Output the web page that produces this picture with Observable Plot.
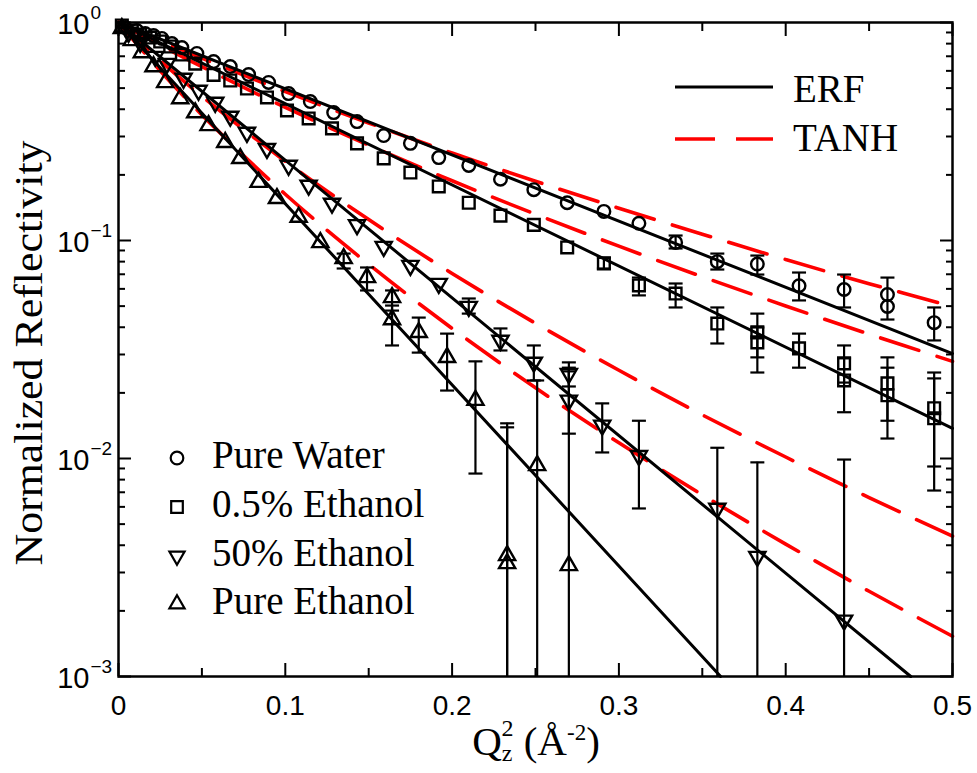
<!DOCTYPE html>
<html><head><meta charset="utf-8">
<script src="https://cdn.jsdelivr.net/npm/d3@7"></script>
<script src="https://cdn.jsdelivr.net/npm/@observablehq/plot@0.6"></script>
<style>body{margin:0;background:#fff} #chart{width:977px;height:773px}</style>
</head><body><div id="chart"></div>
<script>
// ---- axis ticks / labels ----
const xMajor = [0, 0.1, 0.2, 0.3, 0.4, 0.5];
const xMinor = [0.05, 0.15, 0.25, 0.35, 0.45];
const xTickLabels = ["0", "0.1", "0.2", "0.3", "0.4", "0.5"];
const yMajor = [1, 0.1, 0.01, 0.001];
const yTickExps = ["0", "\u22121", "\u22122", "\u22123"];
const yMinor = [0.9,0.8,0.7,0.6,0.5,0.4,0.3,0.2,0.09,0.08,0.07,0.06,0.05,0.04,0.03,0.02,0.009,0.008,0.007,0.006,0.005,0.004,0.003,0.002];

// ---- data: Pure Water ----
const waterX = [0.004,0.011,0.016,0.021,0.026,0.032,0.038,0.047,0.057,0.067,0.078,0.090,0.102,0.115,0.129,0.143,0.159,0.175,0.192,0.210,0.229,0.249,0.269,0.291,0.312,0.334,0.359,0.383,0.408,0.435,0.461,0.461,0.489];
const waterY = [0.948,0.919,0.890,0.871,0.845,0.801,0.768,0.721,0.662,0.628,0.577,0.531,0.472,0.434,0.386,0.351,0.303,0.279,0.240,0.221,0.191,0.171,0.149,0.136,0.120,0.098,0.080,0.078,0.062,0.0596,0.0565,0.0498,0.042];
const waterErrX  = [0.334,0.359,0.383,0.408,0.435,0.461,0.489];
const waterErrLo = [0.0919,0.0736,0.0698,0.0531,0.0493,0.0434,0.0348];
const waterErrHi = [0.1054,0.0871,0.0853,0.0713,0.0698,0.0676,0.0493];

// ---- data: 0.5% Ethanol ----
const e05X = [0.002,0.008,0.013,0.019,0.025,0.031,0.038,0.046,0.057,0.067,0.077,0.089,0.101,0.114,0.128,0.143,0.159,0.175,0.192,0.210,0.229,0.249,0.269,0.291,0.312,0.334,0.359,0.383,0.383,0.408,0.435,0.435,0.461,0.461,0.489,0.489];
const e05Y = [0.969,0.919,0.881,0.853,0.818,0.776,0.713,0.648,0.575,0.542,0.498,0.453,0.395,0.363,0.327,0.279,0.238,0.205,0.177,0.149,0.130,0.118,0.0929,0.0784,0.0622,0.0571,0.0416,0.0379,0.0341,0.0320,0.0273,0.0228,0.0221,0.0195,0.0170,0.0153];
const e05ErrX  = [0.291,0.312,0.334,0.359,0.383,0.383,0.408,0.435,0.435,0.461,0.461,0.489,0.489];
const e05ErrHi = [0.0836,0.0676,0.0635,0.0493,0.0462,0.0399,0.0374,0.0330,0.0288,0.0291,0.0261,0.0248,0.0233];
const e05ErrLo = [0.0744,0.0560,0.0493,0.0337,0.0291,0.0248,0.0261,0.0223,0.0163,0.0149,0.01235,0.00919,0.00713];

// ---- data: 50% Ethanol ----
const e50X = [0.006,0.013,0.022,0.029,0.039,0.048,0.058,0.067,0.077,0.089,0.102,0.114,0.128,0.143,0.159,0.175,0.192,0.210,0.229,0.249,0.270,0.270,0.290,0.312,0.359,0.383,0.435];
const e50Y = [0.900,0.810,0.698,0.648,0.554,0.488,0.430,0.371,0.313,0.264,0.221,0.179,0.148,0.118,0.0938,0.0768,0.0635,0.0498,0.0348,0.0276,0.0245,0.0185,0.0142,0.0103,0.0059,0.00355,0.00181];
const e50ErrX  = [0.210,0.229,0.249,0.270,0.270,0.290,0.312,0.359,0.383,0.435];
const e50ErrHi = [0.0542,0.0395,0.0330,0.0276,0.0261,0.0179,0.0149,0.0112,0.0096,0.00989];
const e50ErrLo = [0.0462,0.0313,0.0228,0.0214,0.0130,0.01066,0.0059,0.0001,0.0001,0.0001];

// ---- data: Pure Ethanol ----
const ePX = [0.002,0.008,0.014,0.021,0.028,0.037,0.046,0.054,0.064,0.073,0.084,0.095,0.108,0.121,0.135,0.149,0.164,0.164,0.180,0.197,0.214,0.233,0.233,0.251,0.270];
const ePY = [0.939,0.827,0.728,0.628,0.531,0.448,0.386,0.337,0.282,0.238,0.185,0.156,0.128,0.098,0.0827,0.0677,0.0548,0.0434,0.0379,0.0291,0.0185,0.00359,0.0033,0.00929,0.00323];
const ePErrX  = [0.135,0.149,0.164,0.164,0.180,0.197,0.214,0.233,0.233,0.251,0.270];
const ePErrHi = [0.0871,0.0752,0.0590,0.0503,0.0443,0.0374,0.0279,0.0145,0.0139,0.0228,0.0251];
const ePErrLo = [0.0744,0.0590,0.0477,0.0330,0.0306,0.0205,0.00853,0.0001,0.0001,0.0001,0.0001];

// ---- fits: ERF ----
const erfWaterX = [0, 0.5],   erfWaterY = [1, 0.0303];
const erf05X    = [0, 0.5],   erf05Y    = [1, 0.01374];
const erf50X    = [0, 0.475], erf50Y    = [1, 0.001];
const erfPX     = [0, 0.361], erfPY     = [1, 0.001];

// ---- fits: TANH ----
const tanhX      = [0,0.025,0.05,0.1,0.15,0.2,0.25,0.3,0.35,0.4,0.45,0.5];
const tanhWaterY = [1,0.825,0.686,0.482,0.346,0.252,0.187,0.1406,0.1069,0.0818,0.0634,0.0498];
const tanh05Y    = [1,0.788,0.627,0.408,0.274,0.188,0.132,0.0942,0.0682,0.0501,0.0372,0.0279];
const tanh50Y    = [1,0.668,0.459,0.231,0.1247,0.0706,0.0417,0.0254,0.01585,0.01016,0.00662,0.00440];
const tanhPY     = [1,0.600,0.377,0.163,0.0778,0.0395,0.0211,0.0118,0.00681,0.00405,0.00246,0.00153];

const seriesNames = ["Pure Water", "0.5% Ethanol", "50% Ethanol", "Pure Ethanol"];

// ---- build tables ----
const pts = (xs, ys) => xs.map((x, i) => ({x, y: ys[i]}));
const errs = (xs, lo, hi) => xs.map((x, i) => ({x, lo: lo[i], hi: hi[i]}));
const lineTable = (list) => list.flatMap(([xs, ys], k) => xs.map((x, i) => ({x, y: ys[i], s: k})));

const tanhData = lineTable([[tanhX, tanhWaterY],[tanhX, tanh05Y],[tanhX, tanh50Y],[tanhX, tanhPY]]);
const erfData = lineTable([[erfWaterX, erfWaterY],[erf05X, erf05Y],[erf50X, erf50Y],[erfPX, erfPY]]);
const allErr = [
  ...errs(waterErrX, waterErrLo, waterErrHi),
  ...errs(e05ErrX, e05ErrLo, e05ErrHi),
  ...errs(e50ErrX, e50ErrLo, e50ErrHi),
  ...errs(ePErrX, ePErrLo, ePErrHi)
];
const caps = allErr.flatMap(d => [{x: d.x, y: d.lo}, {x: d.x, y: d.hi}]);

const capSymbol = {draw(ctx) { ctx.moveTo(-7, 0); ctx.lineTo(7, 0); }};
const downTriangle = {draw(ctx, size) {
  const y = -Math.sqrt(size / (Math.sqrt(3) * 3));
  ctx.moveTo(0, -y * 2); ctx.lineTo(-Math.sqrt(3) * y, y); ctx.lineTo(Math.sqrt(3) * y, y); ctx.closePath();
}};

const tickFont = "Liberation Sans, Arial, sans-serif";
const serif = "Liberation Serif, Times New Roman, serif";

const chart = Plot.plot({
  width: 977, height: 773,
  marginLeft: 118, marginRight: 25, marginTop: 22, marginBottom: 97,
  x: {domain: [0, 0.5]},
  y: {type: "log", domain: [0.001, 1]},
  style: {fontFamily: tickFont, background: "white", color: "black", overflow: "visible"},
  marks: [
    Plot.line(tanhData, {x: "x", y: "y", z: "s", stroke: "#ff0000", strokeWidth: 3.6, strokeDasharray: "40,19", curve: "catmull-rom"}),
    Plot.line(erfData, {x: "x", y: "y", z: "s", stroke: "black", strokeWidth: 3}),
    Plot.ruleX(allErr, {x: "x", y1: "lo", y2: "hi", stroke: "black", strokeWidth: 2.2, clip: true}),
    Plot.dot(caps, {x: "x", y: "y", symbol: capSymbol, r: 5, stroke: "black", fill: "none", strokeWidth: 2.2, clip: true}),
    Plot.dot(pts(waterX, waterY), {x: "x", y: "y", symbol: "circle", r: 6.3, stroke: "black", fill: "none", strokeWidth: 2.4}),
    Plot.dot(pts(e05X, e05Y), {x: "x", y: "y", symbol: "square", r: 6.6, stroke: "black", fill: "none", strokeWidth: 2.4}),
    Plot.dot(pts(e50X, e50Y), {x: "x", y: "y", symbol: downTriangle, r: 6, stroke: "black", fill: "none", strokeWidth: 2.4}),
    Plot.dot(pts(ePX, ePY), {x: "x", y: "y", symbol: "triangle", r: 6, stroke: "black", fill: "none", strokeWidth: 2.4}),
    Plot.frame({stroke: "black", strokeWidth: 2.5}),
    // inward ticks, all four sides
    Plot.axisX(xMajor, {anchor: "bottom", tickSize: -13, strokeWidth: 2, fill: "none"}),
    Plot.axisX(xMinor, {anchor: "bottom", tickSize: -8, strokeWidth: 2, fill: "none"}),
    Plot.axisX(xMajor, {anchor: "top", tickSize: -13, strokeWidth: 2, fill: "none"}),
    Plot.axisX(xMinor, {anchor: "top", tickSize: -8, strokeWidth: 2, fill: "none"}),
    Plot.axisY(yMajor, {anchor: "left", tickSize: -13, strokeWidth: 2, fill: "none"}),
    Plot.axisY(yMinor, {anchor: "left", tickSize: -7, strokeWidth: 2, fill: "none"}),
    Plot.axisY(yMajor, {anchor: "right", tickSize: -13, strokeWidth: 2, fill: "none"}),
    Plot.axisY(yMinor, {anchor: "right", tickSize: -7, strokeWidth: 2, fill: "none"}),
    // tick labels
    Plot.axisX(xMajor, {anchor: "bottom", tickSize: 0, tickPadding: 19, fontSize: 28, label: null,
      tickFormat: d => xTickLabels[xMajor.indexOf(d)]}),
    Plot.text(yMajor, {y: d => d, frameAnchor: "left", text: () => "10", textAnchor: "end", dx: -29, dy: 2, fontSize: 29, fill: "black"}),
    Plot.text(yMajor, {y: d => d, frameAnchor: "left", text: (d, i) => yTickExps[i], textAnchor: "start", dx: -28, dy: -10, fontSize: 19, fill: "black"})
  ]
});
document.getElementById("chart").appendChild(chart);

// ---- axis titles and legends ----
const svg = d3.select(chart);
svg.append("text")
  .attr("transform", "translate(42,353) rotate(-90)")
  .attr("text-anchor", "middle")
  .attr("font-family", serif).attr("font-size", 40)
  .attr("textLength", 425).attr("lengthAdjust", "spacingAndGlyphs")
  .text("Normalized Reflectivity");

const xt = svg.append("text").attr("x", 536).attr("y", 755)
  .attr("text-anchor", "middle").attr("font-family", serif).attr("font-size", 41);
xt.append("tspan").text("Q");
xt.append("tspan").attr("font-size", 24).attr("dy", 6).text("z");
xt.append("tspan").attr("font-size", 24).attr("dx", -11).attr("dy", -25).text("2");
xt.append("tspan").attr("dy", 19).text(" (\u00C5");
xt.append("tspan").attr("font-size", 23).attr("dy", -15).text("-2");
xt.append("tspan").attr("dy", 15).text(")");

// top-right legend
const lg = svg.append("g").attr("text-anchor", "start");
lg.append("line").attr("x1", 675).attr("x2", 773).attr("y1", 87).attr("y2", 87)
  .attr("stroke", "black").attr("stroke-width", 3);
lg.append("text").attr("x", 793).attr("y", 102).attr("text-anchor", "start")
  .attr("font-family", serif).attr("font-size", 39).text("ERF");
lg.append("line").attr("x1", 675).attr("x2", 773).attr("y1", 139).attr("y2", 139)
  .attr("stroke", "#ff0000").attr("stroke-width", 3.6).attr("stroke-dasharray", "40,21");
lg.append("text").attr("x", 793).attr("y", 151).attr("text-anchor", "start")
  .attr("font-family", serif).attr("font-size", 39).text("TANH");

// bottom-left legend
const legSyms = [d3.symbolCircle, d3.symbolSquare, downTriangle, d3.symbolTriangle];
const legSizes = [125, 135, 100, 100];
const legY = [458, 507, 556, 604];
const lb = svg.append("g").attr("text-anchor", "start");
seriesNames.forEach((name, i) => {
  lb.append("path")
    .attr("transform", `translate(177,${legY[i]})`)
    .attr("d", d3.symbol(legSyms[i], legSizes[i])())
    .attr("fill", "none").attr("stroke", "black").attr("stroke-width", 2.2);
  lb.append("text").attr("x", 212).attr("y", legY[i] + 10).attr("text-anchor", "start")
    .attr("font-family", serif).attr("font-size", 39).text(name);
});
</script></body></html>
